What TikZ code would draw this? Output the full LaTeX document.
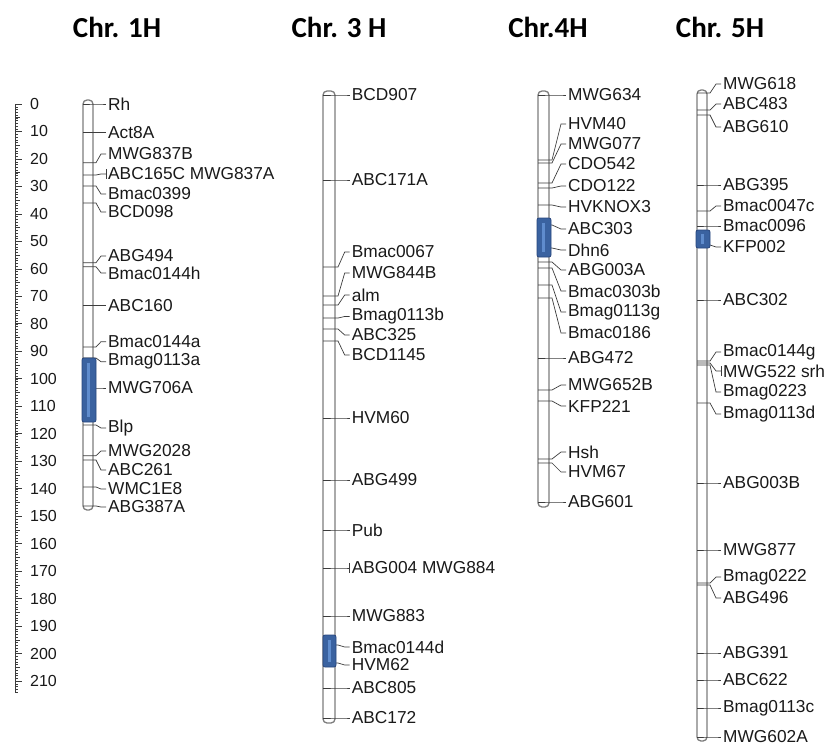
\documentclass[tikz,border=0pt]{standalone}
\usepackage{fontspec}
\setmainfont{Liberation Sans}
\newfontfamily\titlefont{Carlito}
\usepackage{tikz}
\usetikzlibrary{calc}
\definecolor{chrgray}{RGB}{125,125,125}
\definecolor{tickgray}{RGB}{60,60,60}
\definecolor{qtlblue}{RGB}{58,98,160}
\definecolor{qtlline}{RGB}{40,70,125}
\definecolor{qtllight}{RGB}{95,140,205}

\begin{document}
\begin{tikzpicture}[
  x=1pt, y=-1pt,
  chrbar/.style={draw=chrgray, line width=1.3pt, fill=white, rounded corners=4pt},
  qtl/.style={draw=qtlline, fill=qtlblue, line width=0.8pt, rounded corners=2pt},
  mtick/.style={draw=tickgray, line width=0.7pt},
  marker/.style={font=\fontsize{17.3}{19}\selectfont, text=black!90, anchor=west, inner sep=2pt},
  title/.style={font=\titlefont\bfseries\fontsize{29}{31}\selectfont},
  ruler/.style={draw=tickgray, line width=0.7pt},
  cmlab/.style={font=\fontsize{16}{18}\selectfont, text=black!90, anchor=west, inner sep=0pt}
]
  \useasboundingbox (0,0) rectangle (839,745);

  % titles
  \node[title] (t1) at (117,27) {Chr. 1H};
  \node[title] (t3) at (339,27) {Chr. 3 H};
  \node[title] (t4) at (548,27) {Chr.4H};
  \node[title] (t5) at (720,27) {Chr. 5H};

  % cM ruler
  \draw[ruler] (15,104) -- (15,692);
  \foreach \v in {0,...,214}
    \draw[ruler, line width=0.4pt] (15,{104+2.748*\v}) -- ++(3,0);
  \foreach \v in {5,15,...,205}
    \draw[ruler, line width=0.5pt] (15,{104+2.748*\v}) -- ++(5,0);
  \foreach \v in {0,10,...,210} {
    \draw[ruler] (15,{104+2.748*\v}) -- ++(7,0);
    \node[cmlab] (r\v) at (30,{104+2.748*\v}) {\v};
  }

  % Chr. 1H
  \draw[chrbar] (83,100) rectangle (93,510);
  \foreach \ty/\ly/\nm [count=\i] in {104/104/Rh, 132.7/132.7/Act8A,
      162.7/154/MWG837B, 175/174/ABC165C MWG837A, 186/194/Bmac0399,
      203/212/BCD098, 262.7/256/ABG494, 266.7/273/Bmac0144h,
      305.7/305.7/ABC160, 347/341.7/Bmac0144a, 358/361.7/Bmag0113a,
      388/388/MWG706A, 425/428/Blp, 455.7/451/MWG2028, 460/470/ABC261,
      487/489/WMC1E8, 506/507/ABG387A} {
    \node[marker] (a\i) at (106,\ly) {\nm};
    \draw[mtick] (83,\ty) -- (96,\ty) -- ($(a\i.west)+(-5,0)$) -- (a\i.west);
  }
  \draw[mtick] ($(a4.west)+(0,-5)$) -- ($(a4.west)+(0,5)$);
  \draw[qtl] (82,358) rectangle (96,422);
  \fill[qtllight] (87,363) rectangle (90,417);

  % Chr. 3 H
  \draw[chrbar] (323,91) rectangle (335,723);
  \foreach \ty/\ly/\nm [count=\i] in {95/95/BCD907, 180/180/ABC171A,
      267/252/Bmac0067, 296/273/MWG844B, 305/295/alm, 318/316.5/Bmag0113b,
      329/335/ABC325, 341/355/BCD1145, 418/418/HVM60, 480/480/ABG499,
      530/530/Pub, 568/568/ABG004 MWG884, 616/616/MWG883,
      645/647/Bmac0144d, 663/665/HVM62, 688/688/ABC805, 718/718/ABC172} {
    \node[marker] (b\i) at (349.7,\ly) {\nm};
    \draw[mtick] (323,\ty) -- (338,\ty) -- ($(b\i.west)+(-5,0)$) -- (b\i.west);
  }
  \draw[mtick] ($(b12.west)+(0,-5)$) -- ($(b12.west)+(0,5)$);
  \draw[qtl] (323,635) rectangle (336,667);
  \fill[qtllight] (328,640) rectangle (331,662);

  % Chr.4H
  \draw[chrbar] (538,91) rectangle (549,507);
  \foreach \ty/\ly/\nm [count=\i] in {95/95/MWG634, 160/124/HVM40,
      163/144/MWG077, 183/164/CDO542, 188/186/CDO122, 205/207/HVKNOX3,
      225/229/ABC303, 248/250/Dhn6, 262/270/ABG003A, 268/291/Bmac0303b,
      285/312/Bmag0113g, 298/333/Bmac0186, 358/358/ABG472,
      390/385/MWG652B, 401/406/KFP221, 459/452/Hsh, 463/472/HVM67,
      502/502/ABG601} {
    \node[marker] (c\i) at (566,\ly) {\nm};
    \draw[mtick] (538,\ty) -- (552,\ty) -- ($(c\i.west)+(-5,0)$) -- (c\i.west);
  }
  \draw[qtl] (537,218) rectangle (551,257);
  \fill[qtllight] (542,223) rectangle (545,252);

  % Chr. 5H
  \draw[chrbar] (697,90) rectangle (707,741);
  \foreach \ty/\ly/\nm [count=\i] in {93/84/MWG618, 110/104/ABC483,
      115/127/ABG610, 185/185/ABG395, 211/206/Bmac0047c,
      226/226/Bmac0096, 245/247/KFP002, 300/300/ABC302,
      361/352/Bmac0144g, 363/371/MWG522 srh, 365/392/Bmag0223,
      403/414/Bmag0113d, 483/483/ABG003B, 550/550/MWG877,
      583/577/Bmag0222, 585/598/ABG496, 653/653/ABG391, 680/680/ABC622,
      708/708/Bmag0113c, 737/737/MWG602A} {
    \node[marker] (d\i) at (721,\ly) {\nm};
    \draw[mtick] (697,\ty) -- (710,\ty) -- ($(d\i.west)+(-5,0)$) -- (d\i.west);
  }
  \draw[mtick] ($(d10.west)+(0,-5)$) -- ($(d10.west)+(0,5)$);
  \draw[qtl] (696,230) rectangle (710,248);
  \fill[qtllight] (701,234) rectangle (704,244);
\end{tikzpicture}
\end{document}
